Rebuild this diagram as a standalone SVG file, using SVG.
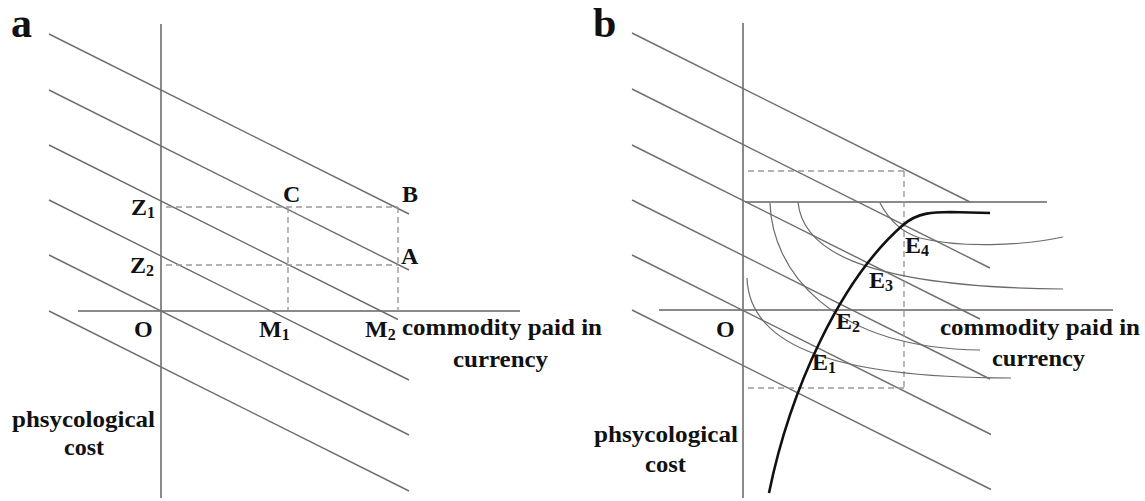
<svg xmlns="http://www.w3.org/2000/svg" width="1145" height="501" viewBox="0 0 1145 501">
<style>
.ax{stroke:#8a8a8a;stroke-width:2;fill:none}
.dg{stroke:#6e6e6e;stroke-width:1.4;fill:none}
.ds{stroke:#9a9a9a;stroke-width:1.4;fill:none;stroke-dasharray:6 4}
.ic{stroke:#6a6a6a;stroke-width:1.2;fill:none}
.ep{stroke:#111;stroke-width:2.6;fill:none}
text{font-family:"Liberation Serif","Times New Roman",serif;font-weight:bold;fill:#111;font-size:24px}
.big{font-size:42px}
.sub{font-size:16px}
</style>
<rect width="1145" height="501" fill="#fff"/>

<g id="panel-a">
  <g id="a-axes">
    <line class="ax" x1="161" y1="24" x2="161" y2="498"/>
    <line class="ax" x1="78" y1="311" x2="520" y2="311"/>
  </g>
  <g id="a-budget-lines">
    <line class="dg" x1="49" y1="34" x2="409" y2="214"/>
    <line class="dg" x1="49" y1="90" x2="409" y2="270"/>
    <line class="dg" x1="49" y1="145" x2="398" y2="319.5"/>
    <line class="dg" x1="49" y1="200" x2="409" y2="380"/>
    <line class="dg" x1="49" y1="255" x2="409" y2="435"/>
    <line class="dg" x1="49" y1="311" x2="409" y2="491"/>
  </g>
  <g id="a-dashed">
    <line class="ds" x1="166" y1="207" x2="398" y2="207"/>
    <line class="ds" x1="166" y1="265" x2="398" y2="265"/>
    <line class="ds" x1="288" y1="207" x2="288" y2="311"/>
    <line class="ds" x1="398" y1="207" x2="398" y2="311"/>
  </g>
  <g id="a-labels">
    <text class="big" x="11" y="37">a</text>
    <text x="131" y="215">Z<tspan class="sub" dy="3">1</tspan></text>
    <text x="130" y="273">Z<tspan class="sub" dy="3">2</tspan></text>
    <text x="283" y="202">C</text>
    <text x="402" y="202">B</text>
    <text x="401" y="264">A</text>
    <text x="134" y="337">O</text>
    <text x="259" y="337">M<tspan class="sub" dy="3">1</tspan></text>
    <text x="365" y="337">M<tspan class="sub" dy="3">2</tspan></text>
    <text x="402" y="335" textLength="200" lengthAdjust="spacingAndGlyphs">commodity paid in</text>
    <text x="453" y="367" textLength="95" lengthAdjust="spacingAndGlyphs">currency</text>
    <text x="12" y="427" textLength="143" lengthAdjust="spacingAndGlyphs">phsycological</text>
    <text x="64" y="455" textLength="40" lengthAdjust="spacingAndGlyphs">cost</text>
  </g>
</g>

<g id="panel-b">
  <g id="b-axes">
    <line class="ax" x1="743" y1="23" x2="743" y2="498"/>
    <line class="ax" x1="659" y1="310" x2="1113" y2="310"/>
    <line class="ax" x1="745" y1="202" x2="1047" y2="202"/>
  </g>
  <g id="b-budget-lines">
    <line class="dg" x1="632" y1="33" x2="970" y2="202"/>
    <line class="dg" x1="632" y1="89" x2="990" y2="268"/>
    <line class="dg" x1="632" y1="145" x2="980" y2="319"/>
    <line class="dg" x1="632" y1="200" x2="990" y2="379"/>
    <line class="dg" x1="632" y1="255" x2="991" y2="434.5"/>
    <line class="dg" x1="632" y1="310" x2="991" y2="489.5"/>
  </g>
  <g id="b-dashed">
    <line class="ds" x1="748" y1="171" x2="904" y2="171"/>
    <line class="ds" x1="904" y1="171" x2="904" y2="388"/>
    <line class="ds" x1="748" y1="388" x2="904" y2="388"/>
  </g>
  <g id="b-indifference">
    <path class="ic" d="M747,278 C749,340 820,378 1011,378"/>
    <path class="ic" d="M770,203 C772,270 830,348 980,350"/>
    <path class="ic" d="M798,202 C802,245 850,287 1063,289"/>
    <path class="ic" d="M880,203 C888,218 900,232 920,238 C960,248 1020,246 1063,237"/>
  </g>
  <g id="b-expansion-path">
    <path class="ep" d="M769,493 C790,390 840,280 903,225 C918,212 935,212 950,212 L990,213"/>
  </g>
  <g id="b-labels">
    <text class="big" x="593" y="37">b</text>
    <text x="716" y="337">O</text>
    <text x="905" y="253">E<tspan class="sub" dy="3">4</tspan></text>
    <text x="869" y="288">E<tspan class="sub" dy="3">3</tspan></text>
    <text x="836" y="329">E<tspan class="sub" dy="3">2</tspan></text>
    <text x="812" y="370">E<tspan class="sub" dy="3">1</tspan></text>
    <text x="940" y="335" textLength="200" lengthAdjust="spacingAndGlyphs">commodity paid in</text>
    <text x="992" y="366" textLength="93" lengthAdjust="spacingAndGlyphs">currency</text>
    <text x="594" y="442" textLength="144" lengthAdjust="spacingAndGlyphs">phsycological</text>
    <text x="645" y="472" textLength="41" lengthAdjust="spacingAndGlyphs">cost</text>
  </g>
</g>
</svg>
